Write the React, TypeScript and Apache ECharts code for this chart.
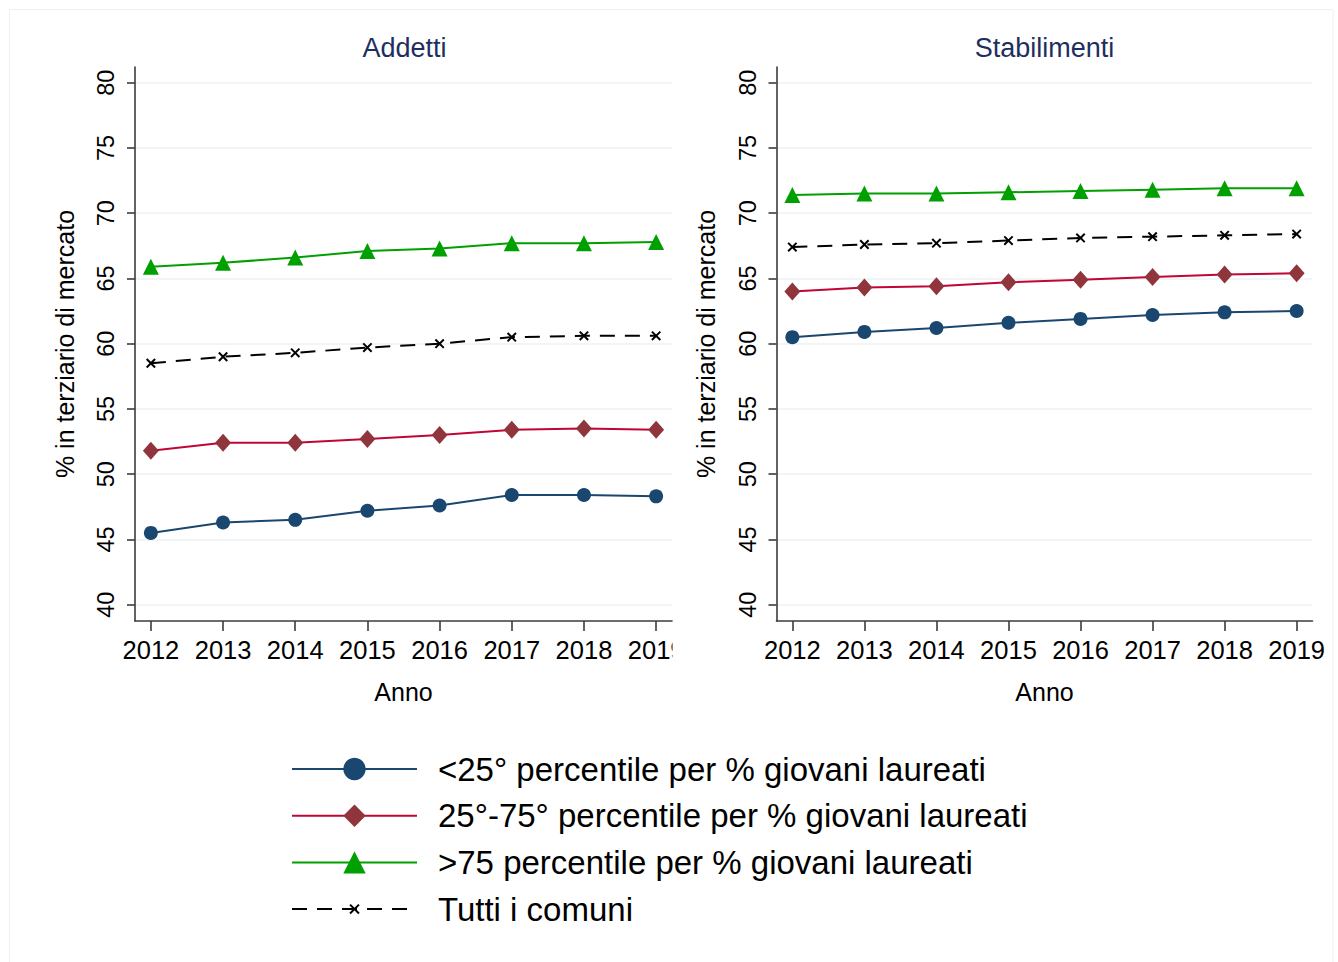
import { useEffect, useRef } from "react";
import * as echarts from "echarts";

// Years on the x axis
const years = [2012, 2013, 2014, 2015, 2016, 2017, 2018, 2019];
const yTicks = [40, 45, 50, 55, 60, 65, 70, 75, 80];

const panelTitles = ["Addetti", "Stabilimenti"];
const seriesNames = [
  "<25° percentile per % giovani laureati",
  "25°-75° percentile per % giovani laureati",
  ">75 percentile per % giovani laureati",
  "Tutti i comuni",
];

// Addetti (employees): % in market services
const addettiBelow25 = [45.5, 46.3, 46.5, 47.2, 47.6, 48.4, 48.4, 48.3];
const addettiMid = [51.8, 52.4, 52.4, 52.7, 53.0, 53.4, 53.5, 53.4];
const addettiAbove75 = [65.9, 66.2, 66.6, 67.1, 67.3, 67.7, 67.7, 67.8];
const addettiAll = [58.5, 59.0, 59.3, 59.7, 60.0, 60.5, 60.6, 60.6];

// Stabilimenti (establishments): % in market services
const stabBelow25 = [60.5, 60.9, 61.2, 61.6, 61.9, 62.2, 62.4, 62.5];
const stabMid = [64.0, 64.3, 64.4, 64.7, 64.9, 65.1, 65.3, 65.4];
const stabAbove75 = [71.4, 71.5, 71.5, 71.6, 71.7, 71.8, 71.9, 71.9];
const stabAll = [67.4, 67.6, 67.7, 67.9, 68.1, 68.2, 68.3, 68.4];

const FONT = "'Liberation Sans', Arial, sans-serif";

// Small "x" marker; the outer move-to points pad its bounding box so the cross stays small
const CROSS = "path://M-10,-10M10,10M-4,-4L4,4M4,-4L-4,4";

const styles = [
  { symbol: "circle", symbolSize: 14, item: "#1a476f", line: "#1a476f", dash: "solid" as any },
  { symbol: "diamond", symbolSize: [16, 18] as any, item: "#90353b", line: "#c10534", dash: "solid" as any },
  { symbol: "triangle", symbolSize: 16, item: "#00a000", line: "#00a000", dash: "solid" as any },
  { symbol: CROSS, symbolSize: 21, item: "#000000", line: "#000000", dash: [15, 10] as any },
];

const toPoints = (vals: number[]) => years.map((y, i) => [y, vals[i]]);

function buildSeries(panel: number, groups: number[][]) {
  return groups.map((vals, k) => {
    const s = styles[k];
    const isCross = k === 3;
    return {
      type: "line",
      name: seriesNames[k],
      xAxisIndex: panel,
      yAxisIndex: panel,
      data: toPoints(vals),
      symbol: s.symbol,
      symbolSize: s.symbolSize,
      showSymbol: true,
      lineStyle: { color: s.line, width: 2, type: s.dash },
      itemStyle: isCross
        ? { color: "#000", borderColor: "#000", borderWidth: 2 }
        : { color: s.item, borderWidth: 0 },
      emphasis: { disabled: true },
      z: 3,
    };
  });
}

function xAxis(gridIndex: number) {
  return {
    type: "value",
    gridIndex,
    min: 2011.78,
    max: 2019.22,
    name: "Anno",
    nameLocation: "middle",
    nameGap: 58,
    nameTextStyle: { fontFamily: FONT, fontSize: 25, color: "#000" },
    axisLine: { show: true, lineStyle: { color: "#3c3c3c", width: 1.6 } },
    axisTick: { show: true, length: 10, customValues: years, lineStyle: { color: "#3c3c3c", width: 1.6 } },
    axisLabel: {
      customValues: years,
      fontFamily: FONT,
      fontSize: 25.5,
      color: "#000",
      margin: 16,
      formatter: (v: number) => String(v),
    },
    splitLine: { show: false },
  };
}

function yAxis(gridIndex: number) {
  return {
    type: "value",
    gridIndex,
    min: 38.75,
    max: 81.2,
    name: "% in terziario di mercato",
    nameLocation: "middle",
    nameGap: 58,
    nameRotate: 90,
    nameTextStyle: { fontFamily: FONT, fontSize: 25, color: "#000" },
    axisLine: { show: true, lineStyle: { color: "#3c3c3c", width: 1.6 } },
    axisTick: { show: true, length: 8, customValues: yTicks, lineStyle: { color: "#3c3c3c", width: 1.6 } },
    axisLabel: {
      customValues: yTicks,
      rotate: 90,
      fontFamily: FONT,
      fontSize: 23.5,
      color: "#000",
      margin: 17,
    },
    splitLine: { show: true, lineStyle: { color: "#ecf2f4", width: 1.6 } },
  };
}

export default function App() {
  const ref = useRef<HTMLDivElement>(null);

  useEffect(() => {
    if (!ref.current) return;
    const chart = echarts.init(ref.current, undefined, { renderer: "svg" });

    const option = {
      animation: false,
      backgroundColor: "#ffffff",
      grid: [
        { left: 135, top: 67, width: 537, height: 554 },
        { left: 776.5, top: 67, width: 536, height: 554 },
      ],
      xAxis: [xAxis(0), xAxis(1)],
      yAxis: [yAxis(0), yAxis(1)],
      legend: {
        show: true,
        orient: "vertical",
        left: 291,
        top: 752.5,
        padding: 0,
        itemWidth: 125,
        itemHeight: 28,
        itemGap: 13.7,
        data: seriesNames,
        selectedMode: false,
        textStyle: {
          fontFamily: FONT,
          fontSize: 33,
          lineHeight: 33,
          color: "#000",
          padding: [0, 0, 0, 16],
        },
      },
      series: [
        ...buildSeries(0, [addettiBelow25, addettiMid, addettiAbove75, addettiAll]),
        ...buildSeries(1, [stabBelow25, stabMid, stabAbove75, stabAll]),
      ],
      graphic: [
        {
          type: "rect",
          silent: true,
          z: -10,
          shape: { x: 9.5, y: 9.5, width: 1323.5, height: 1000 },
          style: { fill: "none", stroke: "#eef1f4", lineWidth: 1 },
        },
        {
          type: "text",
          x: 404.5,
          y: 48,
          style: {
            text: panelTitles[0],
            fontFamily: FONT,
            fontSize: 27,
            fill: "#1e2f5e",
            textAlign: "center",
            textVerticalAlign: "middle",
          },
        },
        {
          type: "text",
          x: 1044.5,
          y: 48,
          style: {
            text: panelTitles[1],
            fontFamily: FONT,
            fontSize: 27,
            fill: "#1e2f5e",
            textAlign: "center",
            textVerticalAlign: "middle",
          },
        },
        {
          // the left panel ends at its plot edge, trimming its last year label
          type: "rect",
          silent: true,
          z: 100,
          shape: { x: 672.5, y: 632, width: 32, height: 38 },
          style: { fill: "#ffffff" },
        },
      ],
    };

    chart.setOption(option as any);
    return () => chart.dispose();
  }, []);

  return (
    <div
      ref={ref}
      style={{ position: "absolute", left: 0, top: 0, width: 1338, height: 962 }}
    />
  );
}
